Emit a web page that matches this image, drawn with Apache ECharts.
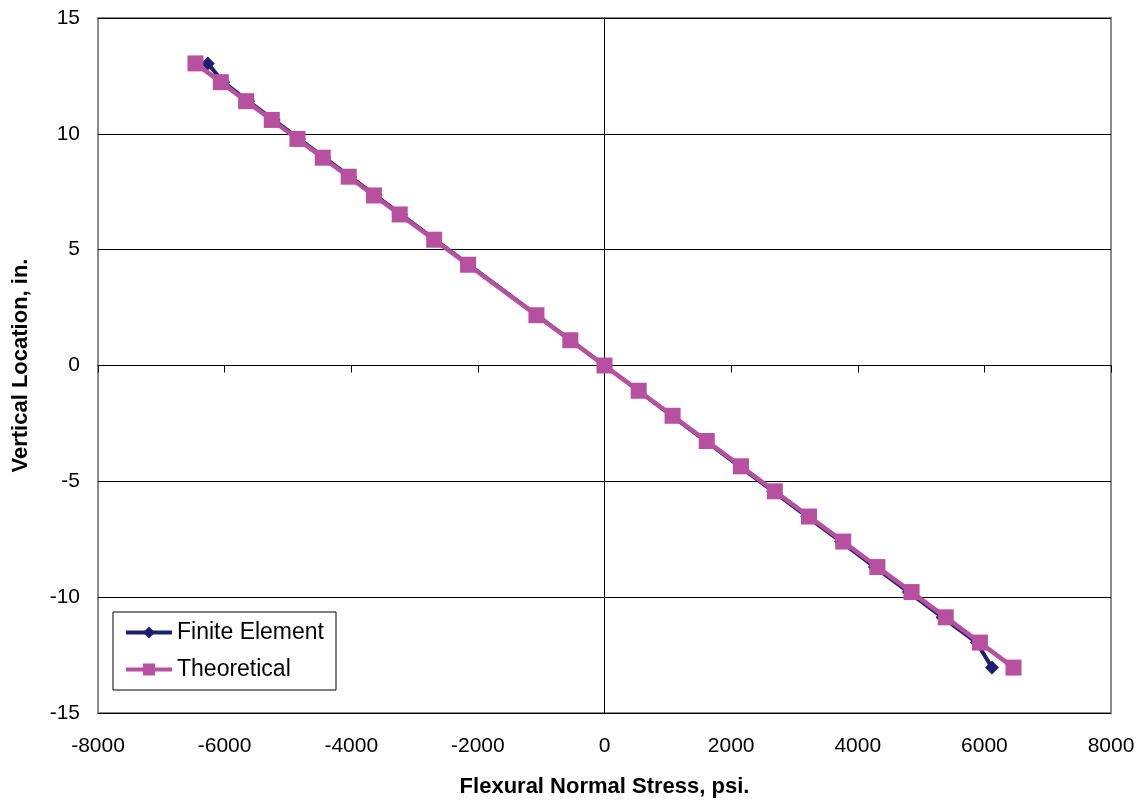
<!DOCTYPE html>
<html>
<head>
<meta charset="utf-8">
<script src="https://cdn.jsdelivr.net/npm/echarts@6/dist/echarts.min.js"></script>
<style>
  html, body { margin: 0; padding: 0; background: #fff; }
  #chart { width: 1147px; height: 801px; }
</style>
</head>
<body>
<div id="chart"></div>
<script>
// Vertical location through the section depth, in.
const depth = [13.04, 12.23, 11.41, 10.6, 9.78, 8.97, 8.15, 7.34, 6.52, 5.43, 4.35, 2.17, 1.09, 0,
  -1.09, -2.17, -3.26, -4.35, -5.43, -6.52, -7.6, -8.7, -9.78, -10.87, -11.96, -13.04];
// Flexural normal stress from the finite element model, psi
const feStress = [-6265, -6020, -5630, -5225, -4825, -4425, -4020, -3620, -3215, -2680, -2145, -1070, -535, 0,
  535, 1065, 1600, 2135, 2665, 3200, 3735, 4270, 4805, 5340, 5880, 6120];
// Flexural normal stress from beam theory, psi
const theoryStress = [-6460, -6060, -5660, -5255, -4850, -4450, -4040, -3640, -3235, -2690, -2155, -1075, -540, 0,
  540, 1075, 1615, 2155, 2690, 3230, 3770, 4310, 4850, 5390, 5930, 6460];

const FONT = 'Liberation Sans, Arial, sans-serif';
const pairs = (xs, ys) => xs.map((x, i) => [x, ys[i]]);
const plain = v => String(v);

const chart = echarts.init(document.getElementById('chart'));
chart.setOption({
  animation: false,
  backgroundColor: '#ffffff',
  grid: {
    left: 98, right: 36, top: 18, bottom: 88,
    outerBoundsMode: 'none',
    containLabel: false,
    show: true, borderColor: '#8c8c8c', borderWidth: 2
  },
  legend: {
    orient: 'vertical',
    left: 113, top: 612,
    padding: [9, 12, 9, 11],
    itemGap: 14,
    itemWidth: 46, itemHeight: 15,
    borderColor: '#000', borderWidth: 1,
    backgroundColor: '#fff',
    lineStyle: { width: 4 },
    textStyle: { fontFamily: FONT, fontSize: 23, color: '#000', padding: [0, 6, 0, 0] },
    data: ['Finite Element', 'Theoretical']
  },
  xAxis: [
    {
      type: 'value', min: -8000, max: 8000, interval: 2000,
      position: 'bottom',
      name: 'Flexural Normal Stress, psi.',
      nameLocation: 'middle', nameGap: 63,
      nameTextStyle: { fontFamily: FONT, fontSize: 22, fontWeight: 'bold', color: '#000' },
      axisLine: { show: false, onZero: false },
      axisTick: { show: false },
      splitLine: { show: false },
      axisLabel: { fontFamily: FONT, fontSize: 21, color: '#000', margin: 23, formatter: plain }
    },
    {
      type: 'value', min: -8000, max: 8000, interval: 2000,
      position: 'bottom',
      axisLine: { show: true, onZero: true, lineStyle: { color: '#000', width: 1 } },
      axisTick: { show: true, inside: false, length: 7, lineStyle: { color: '#000' } },
      axisLabel: { show: false },
      splitLine: { show: false }
    }
  ],
  yAxis: [
    {
      type: 'value', min: -15, max: 15, interval: 5,
      position: 'left',
      name: 'Vertical Location, in.',
      nameLocation: 'middle', nameGap: 66,
      nameTextStyle: { fontFamily: FONT, fontSize: 22, fontWeight: 'bold', color: '#000' },
      axisLine: { show: false, onZero: false },
      axisTick: { show: false },
      splitLine: { show: true, lineStyle: { color: '#000', width: 1 } },
      axisLabel: { fontFamily: FONT, fontSize: 21, color: '#000', margin: 18, formatter: plain }
    },
    {
      type: 'value', min: -15, max: 15, interval: 5,
      position: 'left',
      axisLine: { show: true, onZero: true, lineStyle: { color: '#000', width: 1 } },
      axisTick: { show: true, inside: false, length: 6, lineStyle: { color: '#000' } },
      axisLabel: { show: false },
      splitLine: { show: false }
    }
  ],
  series: [
    {
      name: 'Finite Element',
      type: 'line',
      xAxisIndex: 0, yAxisIndex: 0,
      data: pairs(feStress, depth),
      symbol: 'diamond', symbolSize: 14,
      lineStyle: { color: '#1e1e6e', width: 4 },
      itemStyle: { color: '#1e1e6e' },
      z: 3
    },
    {
      name: 'Theoretical',
      type: 'line',
      xAxisIndex: 0, yAxisIndex: 0,
      data: pairs(theoryStress, depth),
      symbol: 'rect', symbolSize: 16,
      lineStyle: { color: '#b6509f', width: 4.5 },
      itemStyle: { color: '#b6509f' },
      z: 4
    }
  ]
});
</script>
</body>
</html>
